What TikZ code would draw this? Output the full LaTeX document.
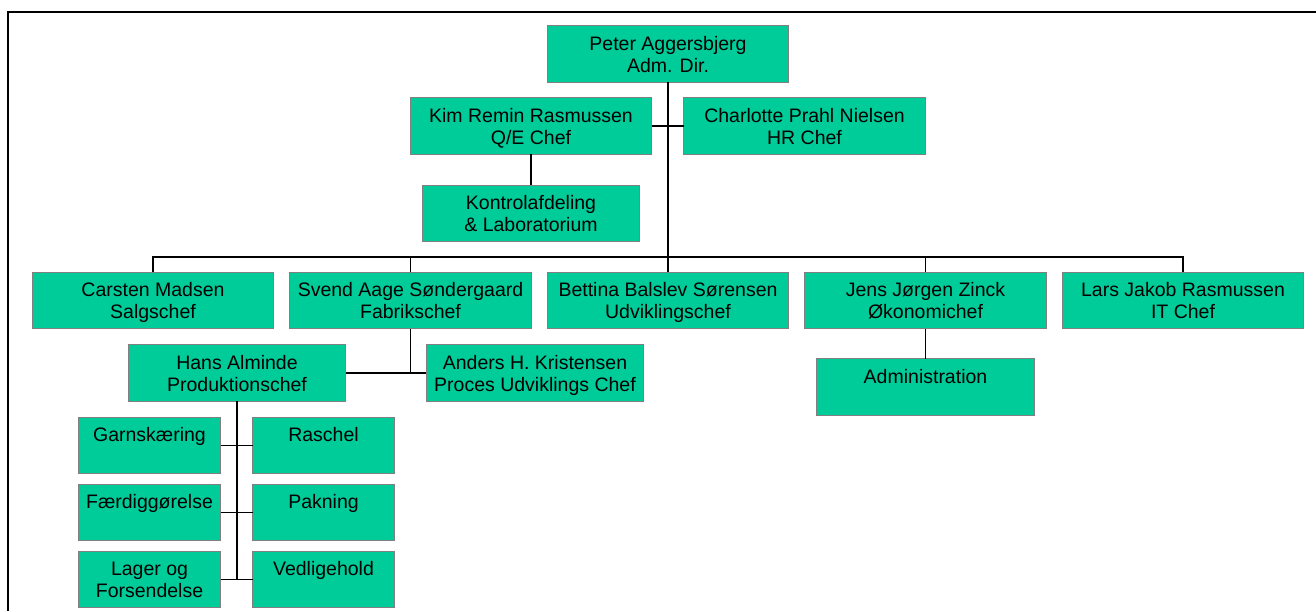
\documentclass[tikz,border=0pt]{standalone}
\usepackage{fontspec}
\setmainfont{Liberation Sans}
\usetikzlibrary{positioning}
\definecolor{boxgreen}{HTML}{00CC99}
\definecolor{boxline}{HTML}{808080}
\tikzset{
  box/.style={draw=boxline, fill=boxgreen, line width=0.6pt, align=center,
    inner sep=0pt, outer sep=0pt, minimum height=28.25pt,
    text height=18.3pt, text depth=0pt,
    font=\fontsize{9.75}{11}\selectfont},
  wide/.style={box, minimum width=120.75pt},
  mid/.style={box, minimum width=108.75pt},
  small/.style={box, minimum width=71pt},
  link/.style={draw=black, line width=0.55pt},
}
\begin{document}
\begin{tikzpicture}[x=0.5pt, y=-0.5pt]
  \useasboundingbox (0,0) rectangle (1316,611);
  \draw [line width=1pt] (8,611) -- (8,12) -- (1316,12);

  \node [wide] (pa) at (668,54) {Peter Aggersbjerg\\Adm. Dir.};
  \node [wide] (kr) at (531,126) {Kim Remin Rasmussen\\Q/E Chef};
  \node [wide] (cp) at (804.5,126) {Charlotte Prahl Nielsen\\HR Chef};
  \node [mid, below=15.5pt of kr] (kl) {Kontrolafdeling\\\& Laboratorium};

  \node [wide] (cm) at (153,300.5) {Carsten Madsen\\Salgschef};
  \node [wide, right=8pt of cm] (sv) {Svend Aage Søndergaard\\Fabrikschef};
  \node [wide, right=8pt of sv] (bb) {Bettina Balslev Sørensen\\Udviklingschef};
  \node [wide, right=8pt of bb] (jj) {Jens Jørgen Zinck\\Økonomichef};
  \node [wide, right=8pt of jj] (lj) {Lars Jakob Rasmussen\\IT Chef};
  \node [mid, below=15pt of jj] (ad) {Administration\\~};

  \node [mid] (ha) at (237,373) {Hans Alminde\\Produktionschef};
  \node [mid, right=40.25pt of ha] (ak) {Anders H. Kristensen\\Proces Udviklings Chef};

  \node [small] (ga) at (149.5,445.5) {Garnskæring\\~};
  \node [small, right=16pt of ga] (ra) {Raschel\\~};
  \node [small, below=5.25pt of ga] (fa) {Færdiggørelse\\~};
  \node [small, right=16pt of fa] (pk) {Pakning\\~};
  \node [small, below=5.25pt of fa] (lo) {Lager og\\Forsendelse};
  \node [small, right=16pt of lo] (ve) {Vedligehold\\~};

  \coordinate (bus) at (668,257);

  \draw [link] (pa.south) -- (bb.north);
  \draw [link] (kr.east) -- (cp.west);
  \draw [link] (kr) -- (kl);
  \draw [link] (cm.north) -- (cm.north |- bus) -- (lj.north |- bus) -- (lj.north);
  \draw [link] (sv.north) -- (sv.north |- bus);
  \draw [link] (jj.north) -- (jj.north |- bus);
  \draw [link] (jj) -- (ad);
  \draw [link] (sv.south) -- (sv.south |- ha.east);
  \draw [link] (ha.east) -- (ak.west);
  \draw [link] (ha.south) -- (ha.south |- lo.east);
  \draw [link] (ga.east) -- (ra.west);
  \draw [link] (fa.east) -- (pk.west);
  \draw [link] (lo.east) -- (ve.west);
\end{tikzpicture}
\end{document}
